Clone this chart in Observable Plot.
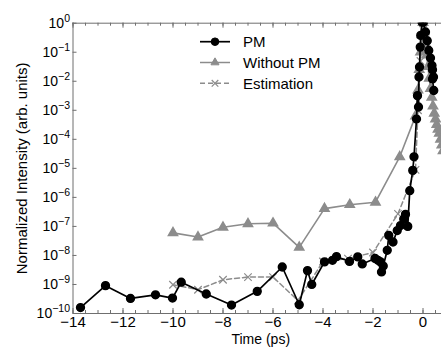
<!DOCTYPE html>
<html>
<head>
<meta charset="utf-8">
<script src="https://cdn.jsdelivr.net/npm/d3@7"></script>
<script src="https://cdn.jsdelivr.net/npm/@observablehq/plot@0.6"></script>
<style>
  html, body { margin: 0; padding: 0; background: #fff; }
  #wrap { position: relative; width: 441px; height: 347px; overflow: hidden; }
  #legend { position: absolute; left: 0; top: 0; pointer-events: none; }
</style>
</head>
<body>
<div id="wrap"></div>
<script>
// ---- Data ----
const pmTime = [-13.7, -12.7, -11.7, -10.7, -10.02, -9.67, -8.67, -7.66, -6.63, -5.63, -4.95, -4.62, -4.45,
  -3.94, -3.62, -3.46, -2.94, -2.61, -2.43, -1.92, -1.8, -1.7, -1.66, -1.59, -1.43, -1.37, -1.2, -1.03,
  -0.9, -0.77, -0.7, -0.61, -0.53, -0.41, -0.36, -0.26, -0.22, -0.18, -0.16, -0.14, -0.11, -0.09, -0.04,
  0.02, 0.1, 0.17, 0.23, 0.3, 0.36, 0.38, 0.42, 0.38, 0.43];
const pmValue = [1.6e-10, 9.1e-10, 3.3e-10, 4.4e-10, 3.4e-10, 1.2e-9, 4.7e-10, 1.95e-10, 5.8e-10, 4.0e-9, 2.0e-10, 3.0e-9, 1.0e-9,
  6.0e-9, 6.8e-9, 9.1e-9, 6.2e-9, 8.9e-9, 5.1e-9, 7.9e-9, 6.8e-9, 6.0e-9, 2.7e-9, 4.3e-9, 1.5e-8, 4.9e-8, 2.9e-8, 7.2e-8,
  1.07e-7, 1.8e-7, 2.6e-7, 1.0e-7, 1.7e-6, 8.5e-6, 2.5e-5, 5.0e-4, 3.2e-3, 1.3e-3, 1.4e-2, 3.1e-2, 0.15, 0.38, 1.1,
  1.1, 0.5, 0.25, 0.115, 0.063, 0.035, 0.025, 0.014, 0.012, 0.0048];

const woTime = [-10, -9, -8, -7, -6, -4.95, -3.94, -2.93, -1.9, -0.93, -0.3, -0.2, -0.15, -0.1, -0.05, 0,
  0.05, 0.1, 0.15, 0.2, 0.25, 0.3, 0.35, 0.4, 0.45, 0.5, 0.55, 0.6, 0.65, 0.7, 0.75, 0.8];
const woValue = [6.0e-8, 4.3e-8, 9.3e-8, 1.23e-7, 1.29e-7, 1.9e-8, 4.1e-7, 5.6e-7, 6.8e-7, 2.5e-5, 6.3e-4, 5.0e-3, 2.5e-2, 0.1, 0.4, 1.05,
  0.5, 0.2, 0.08, 0.032, 0.0126, 5.6e-3, 2.8e-3, 1.4e-3, 7.9e-4, 5.0e-4, 3.2e-4, 2.2e-4, 1.6e-4, 1.0e-4, 6.3e-5, 4.0e-5];

const estTime = [-10, -9, -8, -7, -6, -5, -4, -3, -2, -1, -0.3, -0.2, -0.1, 0, 0.1];
const estValue = [9.8e-10, 6.6e-10, 1.45e-9, 1.8e-9, 1.8e-9, 2.8e-10, 6.2e-9, 7.8e-9, 1.26e-8, 2.7e-7, 8.9e-6, 1.0e-3, 0.05, 1.0, 0.2];

const xMajorTicks = [-14, -12, -10, -8, -6, -4, -2, 0];
const xMinorTicks = d3.range(-14, 1.01, 0.5);
const yTicks = [1e-10, 1e-9, 1e-8, 1e-7, 1e-6, 1e-5, 1e-4, 1e-3, 1e-2, 1e-1, 1];

const seriesNames = ["PM", "Without PM", "Estimation"];
const xLabel = "Time (ps)";
const yLabel = "Normalized Intensity (arb. units)";

const pm = pmTime.map((t, i) => ({t, v: pmValue[i]}));
const wo = woTime.map((t, i) => ({t, v: woValue[i]}));
const est = estTime.map((t, i) => ({t, v: estValue[i]}));

// ---- Layout ----
const W = 441, H = 347;
const mL = 72.5, mT = 22.7, mB = 34, mR = 0;
const frameW = W - mL - mR, frameH = H - mT - mB;
const FONT = "'Liberation Sans', Arial, Helvetica, sans-serif";
const AX = "#6f6f6f";
const GRAY = "#8c8c8c";

const chart = Plot.plot({
  width: W, height: H,
  marginLeft: mL, marginTop: mT, marginBottom: mB, marginRight: mR,
  style: {fontFamily: FONT, fontSize: "14px", background: "white", color: "#000"},
  x: {domain: [-14, 1], range: [mL, mL + 15 * 25], axis: null},
  y: {type: "log", domain: [1e-10, 1], axis: null},
  marks: [
    // axes lines
    Plot.ruleY([1e-10], {stroke: AX, strokeWidth: 1}),
    Plot.ruleY([1], {stroke: AX, strokeWidth: 1}),
    Plot.ruleX([-14], {stroke: AX, strokeWidth: 1}),
    // inward ticks bottom & top
    Plot.ruleX(xMinorTicks, {x: d => d, insetTop: frameH - 3, stroke: AX}),
    Plot.ruleX(xMinorTicks, {x: d => d, insetBottom: frameH - 3, stroke: AX}),
    Plot.ruleX(xMajorTicks, {x: d => d, insetTop: frameH - 5, stroke: AX}),
    Plot.ruleX(xMajorTicks, {x: d => d, insetBottom: frameH - 5, stroke: AX}),
    // inward ticks left
    Plot.ruleY(yTicks, {y: d => d, insetRight: frameW - 4, stroke: AX}),
    // tick labels
    Plot.axisX({ticks: xMajorTicks, tickSize: 0, tickPadding: 3, fontSize: 15, label: null,
      tickFormat: d => (d < 0 ? "\u2212" : "") + Math.abs(d)}),
    Plot.axisY({ticks: yTicks, tickSize: 0, tickPadding: 3, fontSize: 14, label: null,
      tickFormat: d => "10^" + Math.round(Math.log10(d))}),
    // axis titles
    Plot.text([xLabel], {frameAnchor: "bottom", dx: 3.5, dy: 30, fontSize: 14, text: d => d}),
    Plot.text([yLabel], {frameAnchor: "left", textAnchor: "middle", dx: -51, rotate: -90, fontSize: 15, text: d => d}),
    // series
    Plot.line(est, {x: "t", y: "v", stroke: GRAY, strokeWidth: 1.5, strokeDasharray: "5,3", clip: true}),
    Plot.dot(est, {x: "t", y: "v", symbol: "times", r: 3.5, stroke: GRAY, strokeWidth: 1.2, clip: true}),
    Plot.line(wo, {x: "t", y: "v", stroke: GRAY, strokeWidth: 1.6, clip: true}),
    Plot.dot(wo, {x: "t", y: "v", symbol: "triangle", r: 3.4, fill: GRAY, stroke: GRAY, clip: true}),
    Plot.line(pm, {x: "t", y: "v", stroke: "#000", strokeWidth: 1.7, clip: true}),
    Plot.dot(pm, {x: "t", y: "v", r: 3.9, fill: "#000", stroke: "#000", clip: true})
  ]
});

document.getElementById("wrap").appendChild(chart);

// superscript exponents on y tick labels
d3.select(chart).selectAll("text").each(function() {
  const s = this.textContent;
  if (!/^10\^/.test(s)) return;
  const exp = s.split("^")[1];
  const el = d3.select(this);
  el.text(null);
  el.append("tspan").text("10");
  el.append("tspan").attr("dy", "-0.55em").attr("font-size", "10.5px")
    .text(exp.replace("-", "\u2212"));
});

// ---- Legend (inside plot, upper area) ----
const leg = d3.select("#wrap").append("svg").attr("id", "legend")
  .attr("width", W).attr("height", H).style("font-family", FONT);
const rows = [
  {name: seriesNames[0], color: "#000", dash: null, sym: "circle"},
  {name: seriesNames[1], color: GRAY, dash: null, sym: "triangle"},
  {name: seriesNames[2], color: GRAY, dash: "5,3", sym: "times"}
];
rows.forEach((r, i) => {
  const y = 41.7 + i * 20.8;
  leg.append("line").attr("x1", 200).attr("x2", 230).attr("y1", y).attr("y2", y)
    .attr("stroke", r.color).attr("stroke-width", i === 0 ? 1.7 : 1.5)
    .attr("stroke-dasharray", r.dash);
  const sym = r.sym === "circle" ? d3.symbolCircle : r.sym === "triangle" ? d3.symbolTriangle : d3.symbolTimes;
  const size = r.sym === "circle" ? 45 : r.sym === "triangle" ? 28 : 30;
  leg.append("path").attr("d", d3.symbol(sym, size)()).attr("transform", `translate(215,${y})`)
    .attr("fill", r.sym === "times" ? "none" : r.color).attr("stroke", r.color).attr("stroke-width", r.sym === "times" ? 1.2 : 1);
  leg.append("text").attr("x", 243).attr("y", y).attr("dy", "0.35em")
    .attr("font-size", 15).attr("fill", "#000").text(r.name);
});
</script>
</body>
</html>
